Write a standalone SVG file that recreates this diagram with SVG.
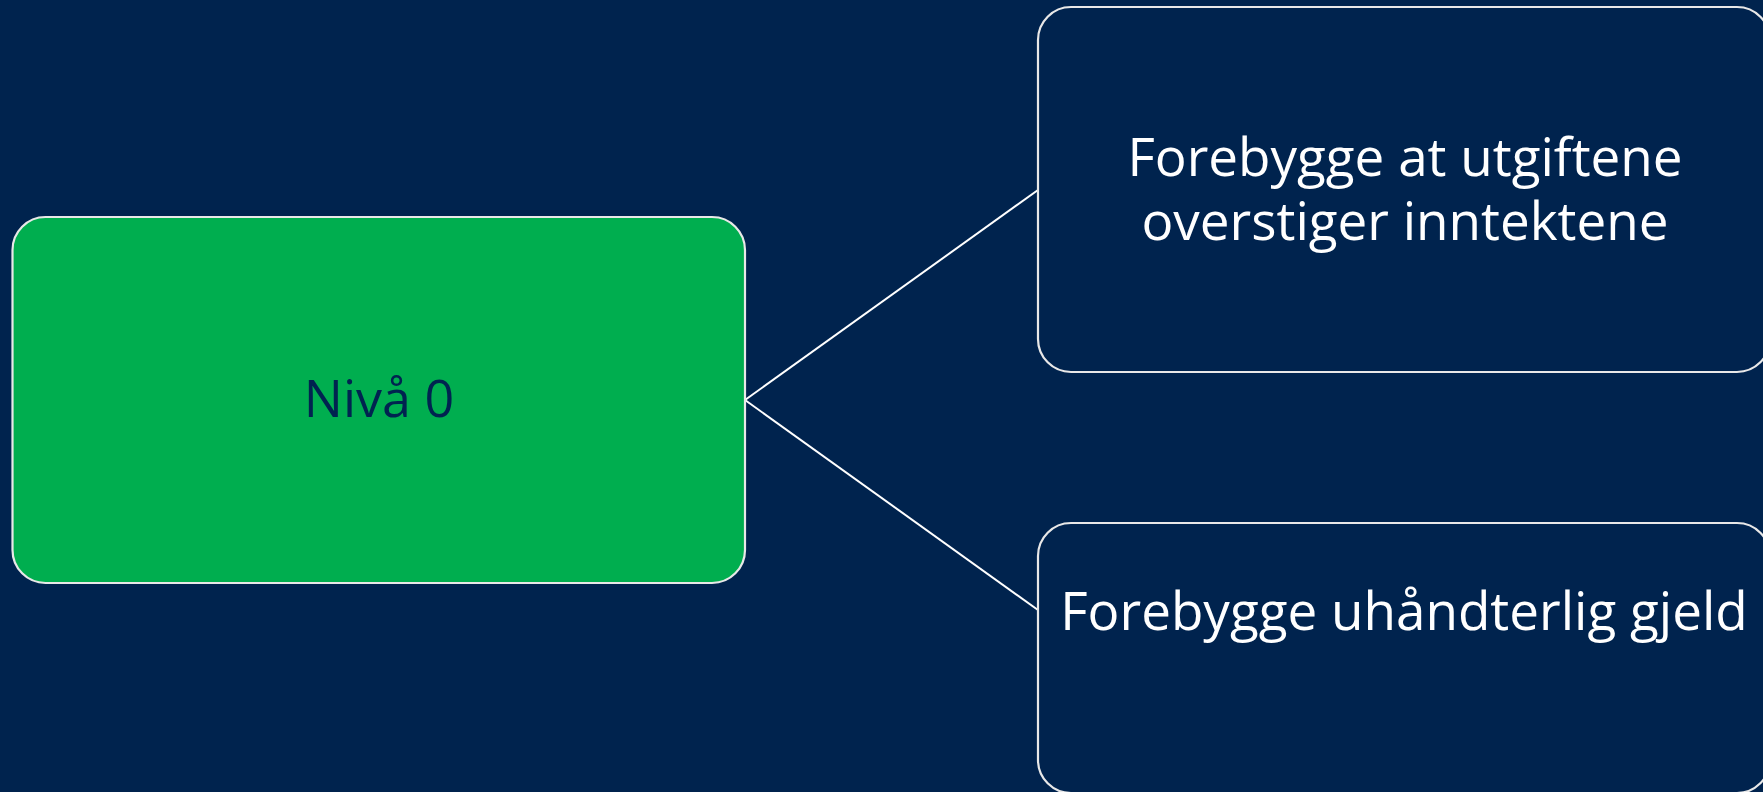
<svg xmlns="http://www.w3.org/2000/svg" width="1763" height="792" viewBox="0 0 1763 792">
<style>
.box{stroke:#E8E8E8;stroke-width:2.2}
.t{font-family:"Open Sans","Noto Sans",sans-serif;text-anchor:middle}
.wt{fill:#FFFFFF;font-size:53px}
.conn{stroke:#FFFFFF;stroke-width:2;fill:none}
</style>
<rect x="0" y="0" width="1763" height="792" fill="#00234E"/>
<g id="connectors">
<line class="conn" x1="745" y1="400" x2="1038" y2="190"/>
<line class="conn" x1="745" y1="400" x2="1038" y2="610"/>
</g>
<g id="node-root">
<rect class="box" x="12.5" y="217" width="732.5" height="366" rx="33" fill="#00AE4F"/>
<text class="t" x="379" y="417" font-size="52" fill="#002350">Nivå 0</text>
</g>
<g id="node-top">
<rect class="box" x="1038" y="7" width="732" height="365" rx="33" fill="#00234E"/>
<text class="t wt" x="1405" y="176">Forebygge at utgiftene</text>
<text class="t wt" x="1405" y="240">overstiger inntektene</text>
</g>
<g id="node-bottom">
<rect class="box" x="1038" y="523" width="732" height="270" rx="33" fill="#00234E"/>
<text class="t wt" x="1404" y="630">Forebygge uhåndterlig gjeld</text>
</g>
</svg>
